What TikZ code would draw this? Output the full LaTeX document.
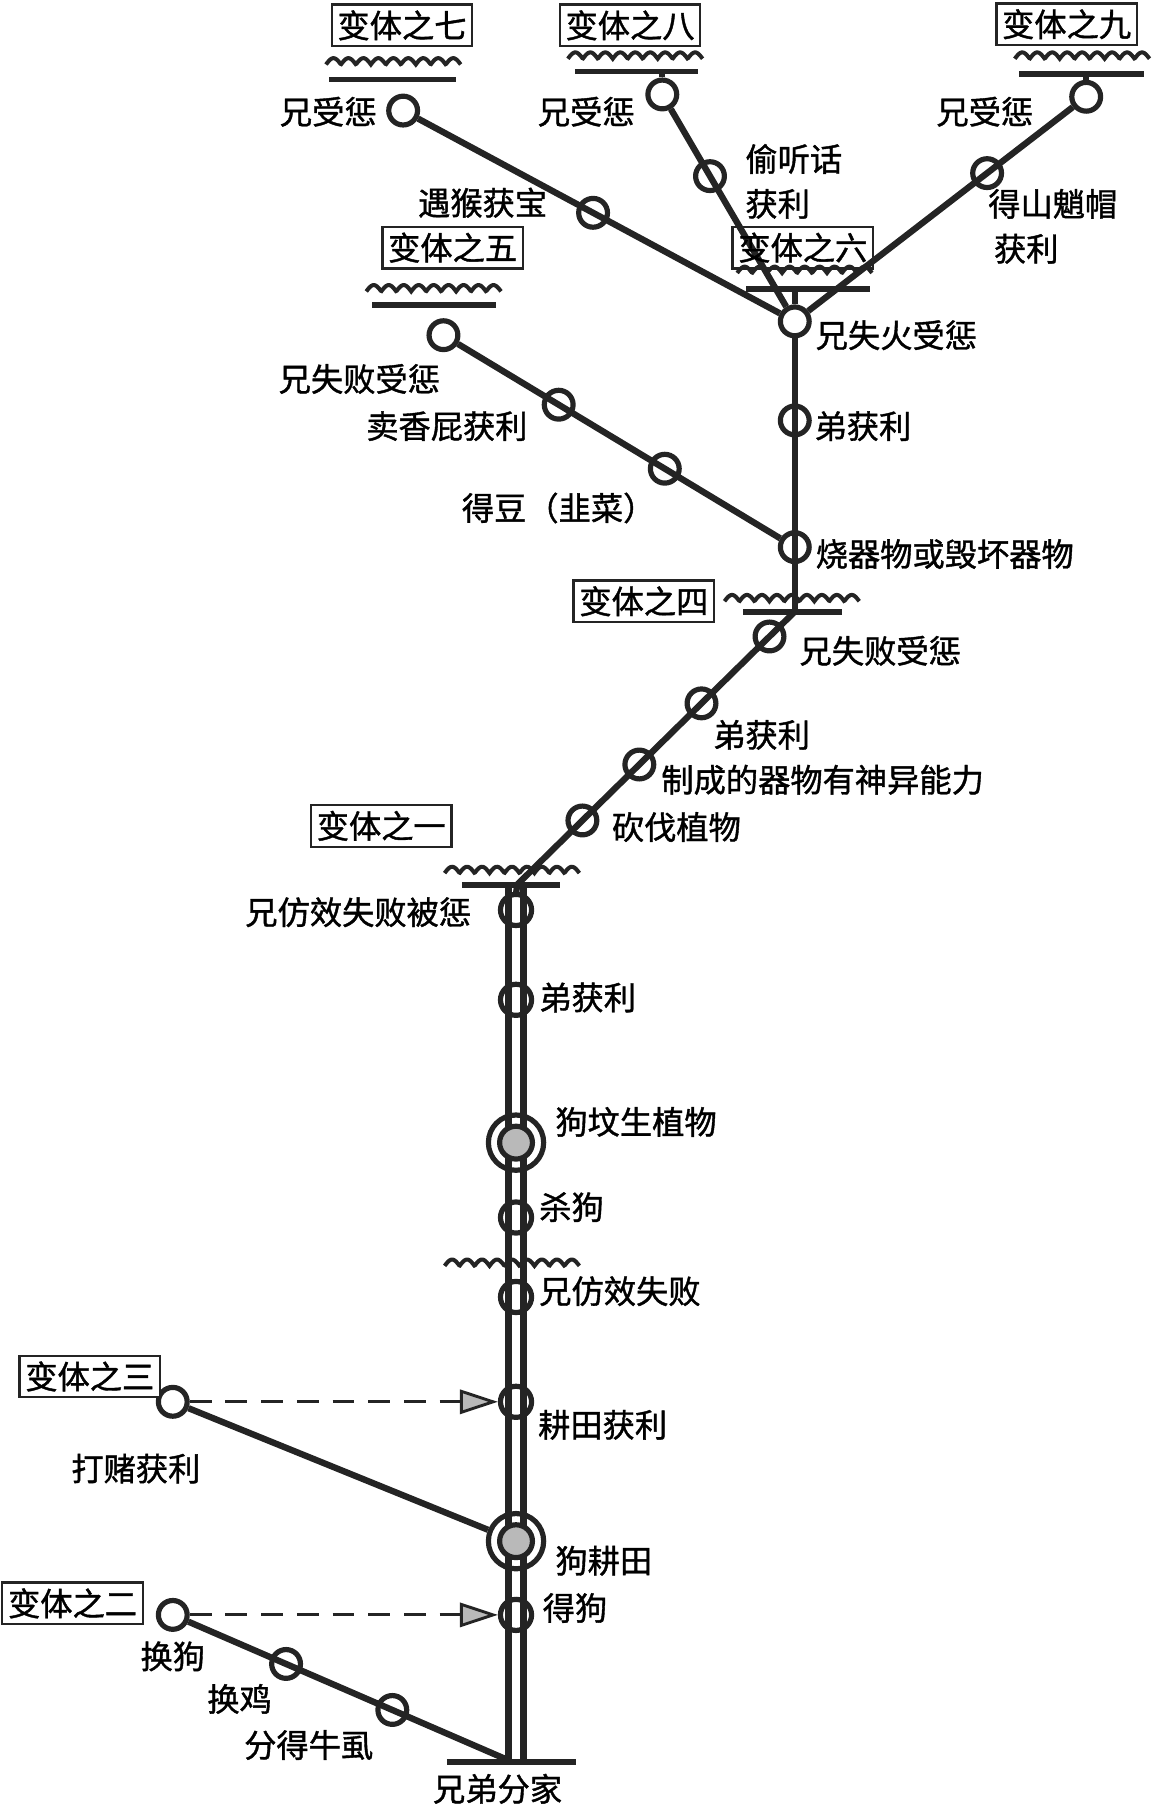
\documentclass[tikz,border=0pt]{standalone}
\usepackage{fontspec}
\setmainfont[FakeBold=1.2]{Noto Sans CJK SC}
\usetikzlibrary{arrows.meta,calc}
\definecolor{ink}{HTML}{242424}
\newcommand\wavesym[3]{\draw[wavel] plot[domain=#1:#2, samples=160] (\x,{#3-5.5*abs(sin((\x-#1)*13.85))});}
\begin{document}
\begin{tikzpicture}[x=1pt,y=-1pt,
  lbl/.style={font=\fontsize{28}{32}\selectfont, inner sep=0pt, text=black},
  vbox/.style={draw=ink, line width=2pt, font=\fontsize{28}{32}\selectfont, inner xsep=5pt, inner ysep=5pt, fill=white},
  oc/.style={circle, draw=ink, line width=4.5pt, minimum size=25pt, inner sep=0pt},
  tc/.style={circle, draw=ink, line width=4.5pt, minimum size=27pt, inner sep=0pt},
  gcout/.style={circle, draw=ink, line width=4.5pt, minimum size=48pt, inner sep=0pt},
  gcin/.style={circle, draw=ink, fill=gray!55, line width=4.5pt, minimum size=28.5pt, inner sep=0pt},
  ln/.style={draw=ink, line width=5.5pt},
  barl/.style={draw=ink, line width=5pt},
  wavel/.style={draw=ink, line width=3.5pt},
  dashl/.style={draw=ink, line width=2.5pt, dash pattern=on 19pt off 12pt},
  trunk/.style={draw=ink, line width=5.5pt, double=white, double distance=7.5pt},
  tip/.style={-{Triangle[length=33pt,width=21pt,fill=gray!55]}}
]
\useasboundingbox (0,0) rectangle (1000,1574);

% ---- coordinates of bars / junctions
\coordinate (b4) at (690,531);
\coordinate (b1) at (449,768);
\coordinate (b0) at (448,1530);
\coordinate (b0l) at (441,1528);

% ---- upper circles
\node[oc] (c6) at (690,279) {};
\node[oc] (c6b) at (690,365) {};
\node[oc] (c6c) at (690,475) {};
\node[oc] (c7) at (350,96) {};
\node[oc] (c8) at (575,82) {};
\node[oc] (c9) at (943,84) {};
\node[oc] (c5) at (385,291) {};

% ---- upper connectors
\draw[ln] (c6) -- (b4);
\draw[ln] (c7) -- (c6);
\draw[ln] (c8) -- (c6);
\draw[ln] (c9) -- (c6);
\draw[ln] (c5) -- (c6c);
\draw[ln] (b4) -- (b1);
\draw[ln] (c8) -- (c8 |- 0,62);
\draw[ln] (c9) -- (c9 |- 0,64);
\draw[ln] (c6) -- (c6 |- 0,251);

\node[oc] (c7m) at ($(c7)!0.485!(c6)$) {};
\node[oc] (c8m) at ($(c8)!0.36!(c6)$) {};
\node[oc] (c9m) at ($(c9)!0.34!(c6)$) {};
\node[oc] (c5a) at ($(c5)!0.328!(c6c)$) {};
\node[oc] (c5b) at ($(c5)!0.63!(c6c)$) {};
\node[oc] (d1) at ($(b4)!0.091!(b1)$) {};
\node[oc] (d2) at ($(b4)!0.336!(b1)$) {};
\node[oc] (d3) at ($(b4)!0.56!(b1)$) {};
\node[oc] (d4) at ($(b4)!0.765!(b1)$) {};

% ---- trunk
\draw[trunk] (448,768) -- (b0);
\draw[ln] (b1) -- (448,776);
\node[tc] (t1) at (448,790) {};
\node[tc] (t2) at (448,868) {};
\node[gcout] (g1) at (448,992) {};
\node[gcin] (g1i) at (448,992) {};
\node[tc] (t3) at (448,1057) {};
\node[tc] (t4) at (448,1126) {};
\node[tc] (t5) at (448,1217) {};
\node[gcout] (g2) at (448,1338) {};
\node[gcin] (g2i) at (448,1338) {};
\node[tc] (t6) at (448,1402) {};

% ---- left branches
\node[oc] (c3) at (150,1217) {};
\node[oc] (c2) at (150,1402) {};
\draw[ln] (c3) -- (g2);
\draw[dashl, tip] (c3) -- (t5);
\draw[ln] (c2) -- (b0l);
\draw[dashl, tip] (c2) -- (t6);
\node[oc] (c2a) at ($(c2)!0.338!(b0l)$) {};
\node[oc] (c2b) at ($(c2)!0.655!(b0l)$) {};

% ---- bars
\draw[barl] (286,69) -- (396,69);
\draw[barl] (499,62) -- (606,62);
\draw[barl] (885,64) -- (993,64);
\draw[barl] (323,265) -- (431,265);
\draw[barl] (648,251) -- (755,251);
\draw[barl] (645,531) -- (731,531);
\draw[barl] (401,768) -- (486,768);
\draw[barl] (388,1530) -- (500,1530);

% ---- variant boxes
\node[vbox] (v7) at (349,22) {变体之七};
\node[vbox] (v8) at (547,22) {变体之八};
\node[vbox] (v9) at (926,21) {变体之九};
\node[vbox] (v5) at (393,215) {变体之五};
\node[vbox, fill=none] (v6) at (697,215) {变体之六};
\node[vbox] (v4) at (559,522) {变体之四};
\node[vbox] (v1) at (331,717) {变体之一};
\node[vbox] (v3) at (78,1195) {变体之三};
\node[vbox] (v2) at (63,1392) {变体之二};

% ---- waves
\wavesym{283}{400}{56}
\wavesym{493}{610}{51}
\wavesym{881}{998}{51}
\wavesym{318}{435}{253}
\wavesym{640}{757}{237}
\wavesym{629}{746}{522}
\wavesym{386}{503}{758}
\wavesym{386}{503}{1099}

% ---- labels
\node[lbl] (l1) at (285,97) {兄受惩};
\node[lbl] (l2) at (509,97) {兄受惩};
\node[lbl] (l3) at (855,97) {兄受惩};
\node[lbl] (l4) at (419,176) {遇猴获宝};
\node[lbl, anchor=west] (l5) at (647,138) {偷听话};
\node[lbl, anchor=west] (l6) at (647,177) {获利};
\node[lbl] (l7) at (914,177) {得山魈帽};
\node[lbl] (l8) at (891,216) {获利};
\node[lbl, anchor=west] (l9) at (708,291) {兄失火受惩};
\node[lbl] (l10) at (312,329) {兄失败受惩};
\node[lbl] (l11) at (388,370) {卖香屁获利};
\node[lbl, anchor=west] (l12) at (707,370) {弟获利};
\node[lbl] (l13) at (485,441) {得豆（韭菜）};
\node[lbl, anchor=west] (l14) at (708,481) {烧器物或毁坏器物};
\node[lbl, anchor=west] (l15) at (694,565) {兄失败受惩};
\node[lbl, anchor=west] (l16) at (619,638) {弟获利};
\node[lbl, anchor=west] (l17) at (574,677) {制成的器物有神异能力};
\node[lbl, anchor=west] (l18) at (531,718) {砍伐植物};
\node[lbl] (l19) at (311,792) {兄仿效失败被惩};
\node[lbl, anchor=west] (l20) at (468,866) {弟获利};
\node[lbl, anchor=west] (l21) at (482,974) {狗坟生植物};
\node[lbl, anchor=west] (l22) at (468,1048) {杀狗};
\node[lbl, anchor=west] (l23) at (468,1121) {兄仿效失败};
\node[lbl, anchor=west] (l24) at (467,1237) {耕田获利};
\node[lbl] (l25) at (118,1275) {打赌获利};
\node[lbl, anchor=west] (l26) at (482,1355) {狗耕田};
\node[lbl, anchor=west] (l27) at (471,1396) {得狗};
\node[lbl] (l28) at (150,1438) {换狗};
\node[lbl] (l29) at (208,1475) {换鸡};
\node[lbl] (l30) at (268,1515) {分得牛虱};
\node[lbl] (l31) at (432,1553) {兄弟分家};
\end{tikzpicture}
\end{document}
